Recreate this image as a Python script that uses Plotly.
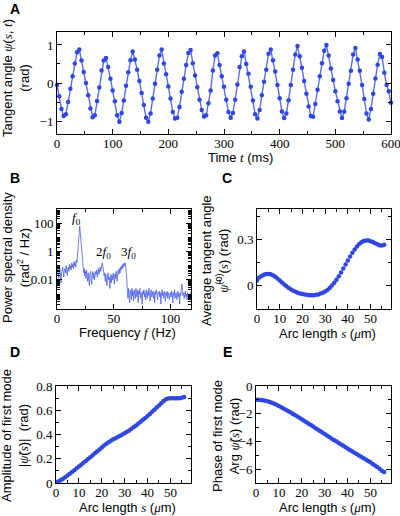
import plotly.graph_objects as go

# ---------------- Data ----------------
# Panel A: tangent angle vs time (sampled every 4 ms)
time_ms = list(range(0, 604, 4))
tangent_angle = [
    -0.05, -0.35, -0.68, -0.87, -0.82, -0.50, -0.15, 0.18, 0.51, 0.81,
    0.88, 0.59, 0.29, 0.00, -0.32, -0.67, -0.90, -0.85, -0.47, -0.12,
    0.33, 0.59, 0.66, 0.42, 0.11, -0.20, -0.48, -0.85, -1.02, -0.79,
    -0.46, -0.07, 0.28, 0.60, 0.83, 0.62, 0.35, 0.05, -0.26, -0.58,
    -0.91, -1.02, -0.80, -0.41, -0.02, 0.35, 0.72, 0.88, 0.51, 0.23,
    -0.09, -0.41, -0.76, -0.93, -0.91, -0.63, -0.23, 0.11, 0.47, 0.79,
    0.87, 0.52, 0.20, -0.11, -0.44, -0.71, -0.88, -0.85, -0.53, -0.20,
    0.33, 0.72, 0.78, 0.47, 0.18, -0.10, -0.44, -0.76, -0.91, -0.79,
    -0.44, -0.04, 0.42, 0.70, 0.83, 0.50, 0.24, -0.10, -0.46, -0.82,
    -0.93, -0.71, -0.32, 0.03, 0.35, 0.77, 0.88, 0.60, 0.30, -0.05,
    -0.40, -0.75, -0.92, -0.80, -0.45, -0.05, 0.35, 0.75, 0.97, 0.70,
    0.40, 0.05, -0.28, -0.62, -0.87, -0.89, -0.55, -0.18, 0.18, 0.52,
    0.85, 1.00, 0.72, 0.38, 0.08, -0.22, -0.48, -0.75, -0.92, -0.75,
    -0.40, -0.02, 0.32, 0.75, 0.92, 0.62, 0.32, -0.05, -0.42, -0.80,
    -0.96, -0.68, -0.28, 0.12, 0.48, 0.76, 0.68, 0.27, -0.05, -0.22,
    -0.52,
]

# Panel B: power spectral density (log10 of rad^2/Hz), 0.5 Hz steps
freq_hz = [i * 0.5 for i in range(237)]
psd_log10 = [
    -1.3, -1.1, -1.5, -1.9, -1.4, -1.2, -1.6, -2.2, -1.5, -1.3, -1.1, -1.4, -1.8, -1.3, -1.2, -1.5, -1.0, -1.3, -1.7, -1.2,
    -1.1, -1.4, -0.9, -1.2, -1.0, -1.3, -0.8, -1.1, -0.9, -1.2, -0.7, -1.0, -0.8, -1.1, -0.6, -0.8, -0.4, 0.0, 0.6, 1.2,
    1.8, 1.3, 0.6, 0.1, -0.4, -0.8, -1.1, -1.5, -1.2, -1.7, -1.4, -1.9, -1.3, -1.6, -2.1, -1.5, -1.8, -2.4, -1.6, -1.4,
    -1.8, -2.3, -1.6, -1.4, -1.9, -1.5, -2.0, -1.7, -1.4, -1.6, -1.3, -1.8, -1.5, -1.2, -1.6, -1.3, -1.1, -1.4, -1.0, -0.9,
    -0.8, -1.1, -1.3, -1.7, -1.5, -2.1, -1.6, -1.9, -2.4, -1.7, -1.5, -2.0, -1.8, -2.6, -1.9, -1.6, -2.2, -1.7, -2.0, -1.5,
    -1.8, -2.3, -1.6, -1.9, -1.4, -1.7, -2.1, -1.5, -1.3, -1.6, -1.2, -1.5, -1.1, -1.3, -1.0, -1.2, -0.9, -1.1, -0.8, -1.0,
    -0.8, -1.0, -1.4, -2.0, -2.8, -3.3, -2.6, -3.0, -3.6, -2.7, -2.9, -3.4, -2.6, -3.1, -2.8, -3.5, -2.7, -3.0, -3.3, -2.6,
    -2.9, -3.2, -2.7, -3.6, -2.8, -3.0, -2.6, -3.3, -2.9, -3.1, -3.7, -2.8, -3.0, -2.7, -3.2, -2.9, -3.4, -2.7, -3.0, -3.3,
    -2.8, -3.1, -2.6, -3.0, -3.5, -2.9, -2.7, -3.2, -3.0, -2.8, -3.3, -2.9, -3.6, -2.8, -3.0, -2.7, -3.1, -3.4, -2.9, -3.0,
    -2.8, -3.2, -2.9, -3.7, -3.0, -2.7, -3.1, -2.9, -3.3, -2.8, -3.0, -3.5, -2.9, -3.1, -2.8, -3.3, -3.0, -2.9, -3.4, -3.1,
    -2.9, -3.2, -2.8, -3.0, -3.6, -2.9, -3.1, -2.7, -3.3, -3.0, -2.9, -3.4, -3.1, -2.8, -3.2, -3.0, -3.7, -2.9, -3.1, -2.6,
    -2.3, -2.8, -3.1, -2.9, -3.3, -3.0, -2.8, -3.2, -3.0, -3.4, -2.9, -3.1, -3.3, -3.0, -3.2, -2.9, -3.1,
]
psd = [10 ** v for v in psd_log10]

# Panels C, D, E: arc length 0..56 um
arc_length = list(range(57))
avg_angle = [
    0.035, 0.055, 0.065, 0.072, 0.077, 0.078, 0.076, 0.070, 0.060, 0.048,
    0.035, 0.022, 0.010, -0.002, -0.013, -0.023, -0.031, -0.038, -0.044, -0.049,
    -0.053, -0.056, -0.058, -0.060, -0.060, -0.060, -0.058, -0.055, -0.050, -0.044,
    -0.036, -0.026, -0.013, 0.002, 0.020, 0.040, 0.063, 0.088, 0.114, 0.140,
    0.166, 0.191, 0.215, 0.237, 0.256, 0.272, 0.284, 0.292, 0.296, 0.295,
    0.291, 0.285, 0.278, 0.271, 0.265, 0.263, 0.268,
]
mode_amplitude = [
    0.005, 0.012, 0.022, 0.034, 0.047, 0.061, 0.076, 0.091, 0.106, 0.121,
    0.136, 0.151, 0.166, 0.181, 0.197, 0.213, 0.229, 0.245, 0.261, 0.277,
    0.293, 0.309, 0.324, 0.337, 0.349, 0.360, 0.370, 0.380, 0.390, 0.400,
    0.411, 0.422, 0.434, 0.447, 0.461, 0.475, 0.490, 0.505, 0.521, 0.537,
    0.553, 0.570, 0.587, 0.604, 0.622, 0.640, 0.658, 0.676, 0.690, 0.697,
    0.699, 0.699, 0.699, 0.699, 0.700, 0.703, 0.710,
]
mode_phase = [
    -1.00, -1.00, -1.01, -1.03, -1.06, -1.10, -1.15, -1.21, -1.28, -1.36,
    -1.44, -1.53, -1.62, -1.71, -1.80, -1.90, -2.00, -2.10, -2.20, -2.30,
    -2.40, -2.51, -2.61, -2.72, -2.82, -2.93, -3.04, -3.14, -3.25, -3.36,
    -3.46, -3.57, -3.68, -3.78, -3.89, -3.99, -4.10, -4.20, -4.30, -4.41,
    -4.51, -4.61, -4.71, -4.81, -4.91, -5.01, -5.11, -5.21, -5.31, -5.41,
    -5.51, -5.62, -5.73, -5.85, -5.98, -6.12, -6.20,
]

# ---------------- Style ----------------
W, H = 400, 516
BLUE = "#2f47e0"
LBLUE = "#5b6ee8"
SERIF = "Liberation Serif"
SANS = "Liberation Sans"


def px_x(x0, x1):
    return [x0 / W, x1 / W]


def px_y(top, bottom):
    return [1 - bottom / H, 1 - top / H]


def axis(domain, anchor, rng, dtick=None, minor_dtick=None, tickvals=None, ticktext=None, typ="linear"):
    d = dict(
        domain=domain, anchor=anchor, range=rng, type=typ, automargin=False,
        showline=True, linecolor="black", linewidth=1, mirror="allticks",
        ticks="inside", ticklen=5, tickwidth=1, tickcolor="black",
        showgrid=False, zeroline=False, ticklabeloverflow="allow",
        tickfont=dict(family=SERIF, size=13, color="black"),
    )
    if dtick is not None:
        d["dtick"] = dtick
        d["tick0"] = 0
    if tickvals is not None:
        d["tickmode"] = "array"
        d["tickvals"] = tickvals
        d["ticktext"] = ticktext
    if minor_dtick is not None:
        d["minor"] = dict(ticks="inside", ticklen=3, tickwidth=1, tickcolor="black",
                          dtick=minor_dtick, tick0=0, showgrid=False)
    return d


fig = go.Figure()

# Panel A
fig.add_trace(go.Scatter(x=time_ms, y=tangent_angle, mode="lines+markers",
                         line=dict(color=LBLUE, width=1.4),
                         marker=dict(color=BLUE, size=4.5),
                         xaxis="x", yaxis="y", showlegend=False, cliponaxis=False))
# Panel B
fig.add_trace(go.Scatter(x=freq_hz, y=psd, mode="lines",
                         line=dict(color="#4a5ee6", width=0.8),
                         xaxis="x2", yaxis="y2", showlegend=False))
# Panel C
fig.add_trace(go.Scatter(x=arc_length, y=avg_angle, mode="markers",
                         marker=dict(color=BLUE, size=4.5),
                         xaxis="x3", yaxis="y3", showlegend=False))
# Panel D
fig.add_trace(go.Scatter(x=arc_length, y=mode_amplitude, mode="markers",
                         marker=dict(color=BLUE, size=4.5),
                         xaxis="x4", yaxis="y4", showlegend=False))
# Panel E
fig.add_trace(go.Scatter(x=arc_length, y=mode_phase, mode="markers",
                         marker=dict(color=BLUE, size=4.5),
                         xaxis="x5", yaxis="y5", showlegend=False))

layout = dict(
    width=W, height=H, margin=dict(l=0, r=0, t=0, b=0),
    paper_bgcolor="white", plot_bgcolor="white", showlegend=False,
)
layout["xaxis"] = axis(px_x(57, 391), "y", [0, 600], dtick=100, minor_dtick=50)
layout["yaxis"] = axis(px_y(32, 134), "x", [-1.34, 1.34], dtick=1, minor_dtick=0.5)

layout["xaxis2"] = axis(px_x(57, 191), "y2", [0, 118], dtick=50, minor_dtick=25)
layout["yaxis2"] = axis(px_y(209, 309), "x2", [-4.05, 3.0], typ="log",
                        tickvals=[0.01, 1, 100], ticktext=["0.01", "1", "100"], minor_dtick="D1")

layout["xaxis3"] = axis(px_x(257, 391), "y3", [0, 59], dtick=10, minor_dtick=5)
layout["yaxis3"] = axis(px_y(209, 309), "x3", [-0.15, 0.5], dtick=0.3, minor_dtick=0.15)

layout["xaxis4"] = axis(px_x(56, 191), "y4", [0, 59], dtick=10, minor_dtick=5)
layout["yaxis4"] = axis(px_y(386, 483), "x4", [0, 0.8], dtick=0.2, minor_dtick=0.1)

layout["xaxis5"] = axis(px_x(256, 391), "y5", [0, 59], dtick=10, minor_dtick=5)
layout["yaxis5"] = axis(px_y(386, 483), "x5", [-7, 0], dtick=2, minor_dtick=1)

fig.update_layout(**layout)

# pull x tick labels a little closer to the axes, if supported
for ax in ["xaxis", "xaxis2", "xaxis3", "xaxis4", "xaxis5"]:
    try:
        fig.layout[ax].ticklabelstandoff = -3
    except Exception:
        pass


def I(s):
    return f'<span style="font-family:{SERIF}"><i>{s}</i></span>'


def paper_ann(text, x, y, size=13, angle=0, bold=False):
    if bold:
        text = f"<b>{text}</b>"
    fig.add_annotation(text=text, x=x / W, y=1 - y / H, xref="paper", yref="paper",
                       showarrow=False, textangle=angle, xanchor="center", yanchor="middle",
                       font=dict(family=SANS, size=size, color="black"))


# Panel letters
paper_ann("A", 15, 9, size=14, bold=True)
paper_ann("B", 15, 178, size=14, bold=True)
paper_ann("C", 227, 178, size=14, bold=True)
paper_ann("D", 15, 352, size=14, bold=True)
paper_ann("E", 227, 352, size=14, bold=True)

psi_t = "ψ&#771;"

# Axis titles
paper_ann(f"Tangent angle {I('ψ')}({I('s')}, {I('t')})<br>(rad)", 16, 78, angle=-90)
paper_ann(f"Time {I('t')} (ms)", 240, 157)

paper_ann("Power spectral density<br>(rad<sup>2</sup> / Hz)", 16, 258, angle=-90)
paper_ann(f"Frequency {I('f')} (Hz)", 127, 332)

paper_ann(f"Average tangent angle<br>{I(psi_t)}<sup>(0)</sup>({I('s')}) (rad)", 215, 261, angle=-90)
paper_ann(f"Arc length {I('s')} ({I('μ')}m)", 327, 333)

paper_ann(f"Amplitude of first mode<br>|{I(psi_t)}({I('s')})|  (rad)", 15, 436, angle=-90)
paper_ann(f"Arc length {I('s')} ({I('μ')}m)", 127, 507)

paper_ann(f"Phase of first mode<br>Arg {I(psi_t)}({I('s')}) (rad)", 226, 436, angle=-90)
paper_ann(f"Arc length {I('s')} ({I('μ')}m)", 327, 507)

# Harmonic labels in panel B
for txt, fx, ly in [(f"{I('f')}<sub>0</sub>", 17, 2.3),
                    (f"2{I('f')}<sub>0</sub>", 41, -0.05),
                    (f"3{I('f')}<sub>0</sub>", 63, -0.1)]:
    fig.add_annotation(text=txt, x=fx, y=ly, xref="x2", yref="y2", showarrow=False,
                       font=dict(family=SERIF, size=13, color="black"))

fig.write_html("out.html", config={"displayModeBar": False},
               post_script="document.body.style.margin='0px';document.body.style.overflow='hidden';")
